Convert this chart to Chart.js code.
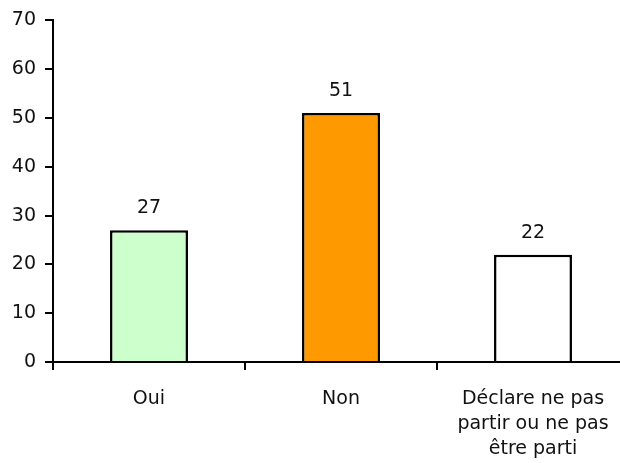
<!DOCTYPE html>
<html>
<head>
<meta charset="utf-8">
<script src="https://cdn.jsdelivr.net/npm/chart.js@4"></script>
<style>
  html, body { margin: 0; padding: 0; background: #fff; overflow: hidden; }
  #wrap { width: 629px; height: 463px; }
</style>
</head>
<body>
<div id="wrap"><canvas id="chart" width="629" height="463"></canvas></div>
<script>
const categories = ['Oui', 'Non', ['Déclare ne pas', 'partir ou ne pas', 'être parti']];
const values = [27, 51, 22];
const barColors = ['#CCFFCC', '#FF9900', '#FFFFFF'];
const yTicks = [0, 10, 20, 30, 40, 50, 60, 70];

const font = { family: 'DejaVu Sans', size: 19 };

// draws the value above each bar
const valueLabels = {
  id: 'valueLabels',
  afterDatasetsDraw(chart) {
    const ctx = chart.ctx;
    const meta = chart.getDatasetMeta(0);
    ctx.save();
    ctx.fillStyle = '#111';
    ctx.font = font.size + 'px ' + font.family;
    ctx.textAlign = 'center';
    ctx.textBaseline = 'middle';
    meta.data.forEach((bar, i) => {
      ctx.fillText(String(values[i]), bar.x, bar.y - 22);
    });
    ctx.restore();
  }
};

new Chart(document.getElementById('chart'), {
  type: 'bar',
  data: {
    labels: categories,
    datasets: [{
      data: values,
      backgroundColor: barColors,
      borderColor: '#000',
      borderWidth: 2.5,
      categoryPercentage: 0.406,
      barPercentage: 1
    }]
  },
  options: {
    responsive: false,
    animation: false,
    layout: { padding: { top: 20, right: 0, left: 0, bottom: 0 } },
    plugins: { legend: { display: false }, tooltip: { enabled: false } },
    scales: {
      x: {
        grid: { offset: true, drawOnChartArea: false, drawTicks: true, tickLength: 8, color: '#000', lineWidth: 2 },
        border: { color: '#000', width: 2 },
        ticks: { color: '#111', font: { ...font, lineHeight: '25px' }, padding: 17, maxRotation: 0, autoSkip: false },
        afterFit(scale) { scale.height = 101; }
      },
      y: {
        min: 0,
        max: 70,
        afterBuildTicks(scale) { scale.ticks = yTicks.map(v => ({ value: v })); },
        grid: { drawOnChartArea: false, drawTicks: true, tickLength: 8, color: '#000', lineWidth: 2 },
        border: { color: '#000', width: 2 },
        ticks: { color: '#111', font: font, padding: 9 },
        afterFit(scale) { scale.width = 53; }
      }
    }
  },
  plugins: [valueLabels]
});
</script>
</body>
</html>
